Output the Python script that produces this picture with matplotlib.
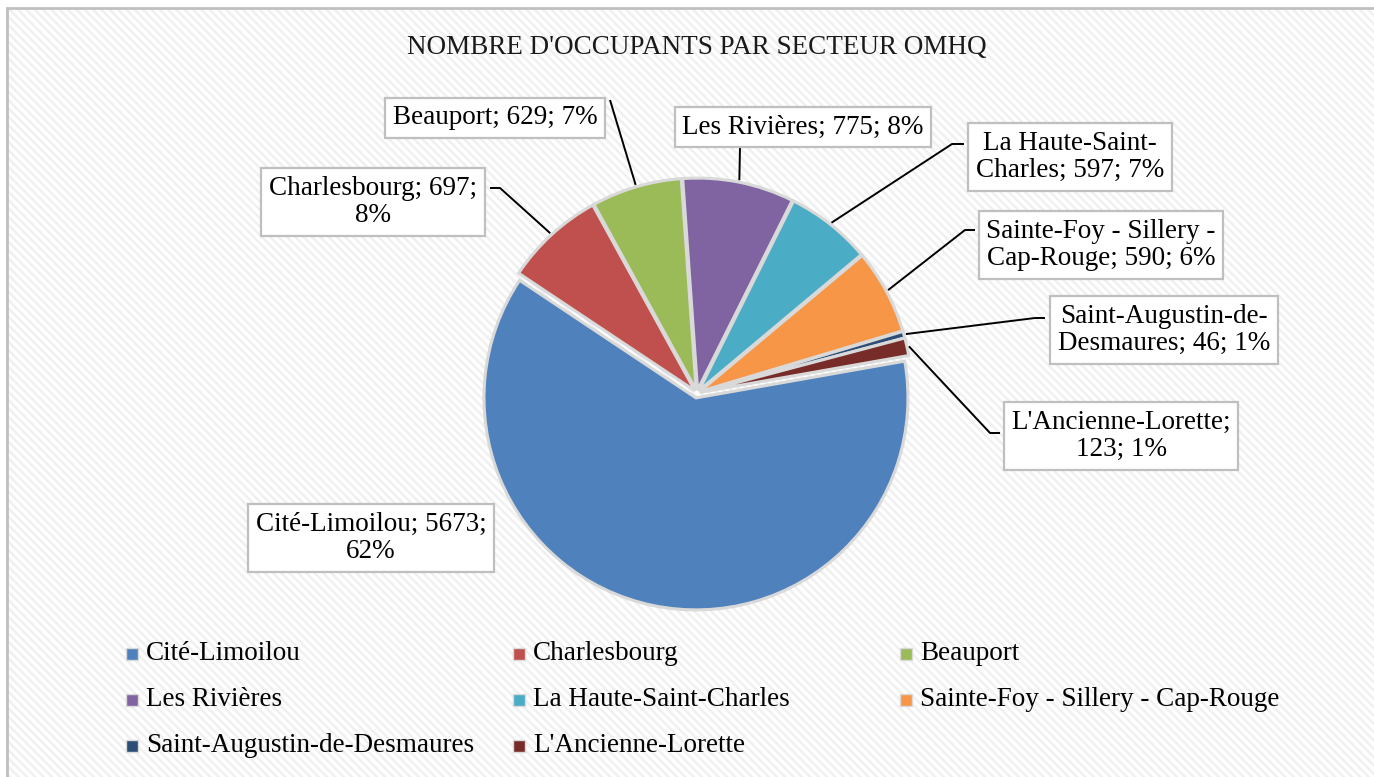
import matplotlib.pyplot as plt
import numpy as np
from matplotlib.patches import Rectangle

# Données
secteurs = ["Cité-Limoilou", "Charlesbourg", "Beauport", "Les Rivières",
            "La Haute-Saint-Charles", "Sainte-Foy - Sillery - Cap-Rouge",
            "Saint-Augustin-de-Desmaures", "L'Ancienne-Lorette"]
occupants = [5673, 697, 629, 775, 597, 590, 46, 123]
couleurs = ["#4F81BD", "#C0504D", "#9BBB59", "#8064A2",
            "#4BACC6", "#F79646", "#2C4D75", "#772C2A"]
# où couper la ligne dans chaque étiquette (comme Excel)
coupures = ["5673; ", "697; ", None, None, "Saint-", "Sillery - ", "de-", "Lorette; "]

plt.rcParams['font.family'] = ['Liberation Serif', 'DejaVu Serif']
plt.rcParams['hatch.linewidth'] = 1.8

W, H = 1374, 777
fig = plt.figure(figsize=(W / 100, H / 100), dpi=100)
ax = fig.add_axes([0, 0, 1, 1])

# fond hachuré + cadre
ax.add_patch(Rectangle((7, -5), W, H - 3, facecolor='white', edgecolor='#f0f0f0',
                       hatch='\\\\\\\\', linewidth=0, zorder=0))
ax.add_patch(Rectangle((7, -5), W, H - 3, facecolor='none', edgecolor='#c0c0c0',
                       linewidth=2, zorder=1))

cx, cy, r = 697, H - 393, 212
depart = 10
explode = [5, 3, 3, 3, 3, 3, 3, 3]
wedges, _ = ax.pie(occupants, colors=couleurs, startangle=depart, counterclock=False,
                   radius=r, center=(cx, cy), explode=explode,
                   wedgeprops=dict(edgecolor='#d9d9d9', linewidth=2.2), frame=True)
ax.set_xlim(0, W)
ax.set_ylim(0, H)
ax.set_aspect('equal')
ax.axis('off')

ax.text(697, H - 47, "NOMBRE D'OCCUPANTS PAR SECTEUR OMHQ", ha='center', va='center',
        fontsize=19.5, color='#1a1a1a')

total = sum(occupants)
# centres des boîtes d'étiquettes (pixels)
pos_etiq = [(371, 538), (373, 202), (495, 118), (803, 127),
            (1070, 157), (1101, 245), (1164, 330), (1121, 436)]
# points d'attache des traits de rappel sur la boîte, et coude éventuel
attache = [None, (490, 188), (610, 100), (740, 147),
           (964, 144), (975, 230), (1045, 318), (1000, 433)]
coude = [None, (500, 188), None, None,
         (952, 144), (965, 230), (1035, 318), (990, 433)]

for i, w in enumerate(wedges):
    pct = occupants[i] / total * 100
    txt = f"{secteurs[i]}; {occupants[i]}; {pct:.0f}%"
    if coupures[i]:
        txt = txt.replace(coupures[i], coupures[i].rstrip() + "\n", 1)
    px, py = pos_etiq[i]
    ax.text(px, H - py, txt, ha='center', va='center', fontsize=19.5,
            linespacing=1.12, zorder=5,
            bbox=dict(boxstyle='square,pad=0.28', facecolor='white',
                      edgecolor='#bfbfbf', linewidth=1.6))
    if attache[i] is None:
        continue
    ang = np.deg2rad((w.theta1 + w.theta2) / 2)
    rr = r + 5
    xs = [cx + rr * np.cos(ang)]
    ys = [cy + rr * np.sin(ang)]
    if coude[i] is not None:
        xs.append(coude[i][0])
        ys.append(H - coude[i][1])
    xs.append(attache[i][0])
    ys.append(H - attache[i][1])
    ax.plot(xs, ys, color='black', lw=1.4, zorder=4, solid_capstyle='butt')

# légende
col_x = [126, 513, 900]
row_y = [654, 700, 746]
for i, nom in enumerate(secteurs):
    x = col_x[i % 3]
    y = H - row_y[i // 3]
    ax.add_patch(Rectangle((x, y - 6), 12, 12, facecolor=couleurs[i],
                           edgecolor='#d9d9d9', linewidth=1, zorder=3))
    ax.text(x + 20, y + 1, nom, ha='left', va='center', fontsize=19.5, color='black')

fig.savefig("out.png", dpi=100)
